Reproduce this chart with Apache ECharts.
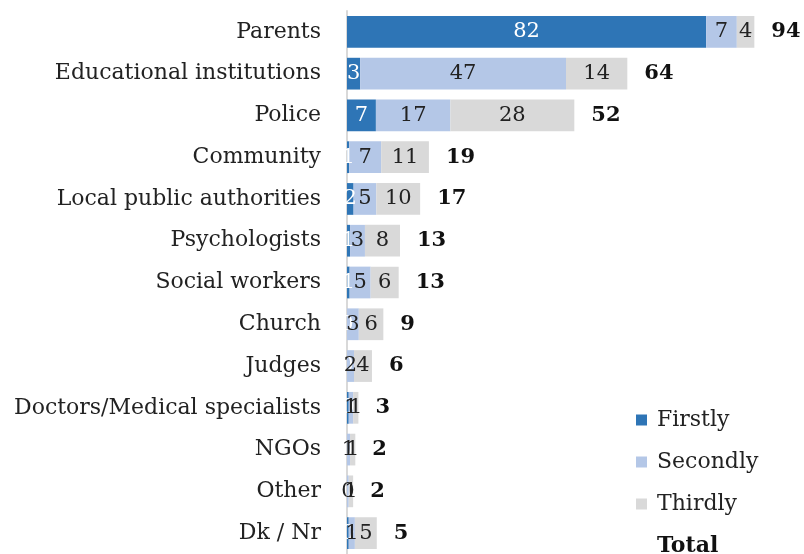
<!DOCTYPE html>
<html><head><meta charset="utf-8">
<script src="https://cdn.jsdelivr.net/npm/echarts@6/dist/echarts.min.js"></script>
<style>html,body{margin:0;padding:0;background:#fff}#c{width:804px;height:554px}</style>
</head><body><div id="c"></div>
<script>
const categories = ["Parents","Educational institutions","Police","Community","Local public authorities","Psychologists","Social workers","Church","Judges","Doctors/Medical specialists","NGOs","Other","Dk / Nr"];
const firstly  = [82, 3, 6.6, 0.5, 1.5, 0.7, 0.6, 0, 0, 0.4, 0, 0, 0.4];
const secondly = [7, 47, 17, 7.3, 5.2, 3.4, 4.8, 2.7, 1.6, 1, 0.7, 0.4, 1.4];
const thirdly  = [4, 14, 28.3, 10.9, 10, 8, 6.4, 5.6, 4.1, 1.2, 1.2, 1, 5];
const totals   = [94, 64, 52, 19, 17, 13, 13, 9, 6, 3, 2, 2, 5];

const FONT = "DejaVu Serif";
const chart = echarts.init(document.getElementById('c'));
const lbl = (color) => ({show:true, position:'inside', color:color, fontFamily:FONT, fontSize:21,
  formatter: p => String(Math.round(p.value))});
chart.setOption({
  animation:false,
  textStyle:{fontFamily:FONT},
  grid:{left:347, right:19, top:11, height:547},
  xAxis:{type:'value', min:0, max:100, show:false, splitLine:{show:false}},
  yAxis:{type:'category', data:categories, inverse:true,
    axisTick:{show:false},
    axisLine:{show:true, lineStyle:{color:'#d9d9d9', width:2}},
    axisLabel:{color:'#222', fontFamily:FONT, fontSize:22, margin:26}},
  legend:{orient:'vertical', left:636, top:409, height:200, itemWidth:11, itemHeight:11, itemGap:20,
    padding:0, icon:'rect',
    textStyle:{fontFamily:FONT, fontSize:22, color:'#222', padding:[0,0,0,5]},
    data:[{name:'Firstly'},{name:'Secondly'},{name:'Thirdly'},
      {name:'Total', textStyle:{fontWeight:'bold', color:'#111'}}]},
  series:[
    {name:'Firstly', type:'bar', stack:'s', data:firstly, barCategoryGap:'24%',
      itemStyle:{color:'#2e75b6'}, label:lbl('#fff')},
    {name:'Secondly', type:'bar', stack:'s', data:secondly,
      itemStyle:{color:'#b4c7e7'}, label:lbl('#222')},
    {name:'Thirdly', type:'bar', stack:'s', data:thirdly,
      itemStyle:{color:'#d9d9d9'}, label:lbl('#222')},
    {name:'Total', type:'bar', stack:'s', data:totals.map(()=>0),
      itemStyle:{color:'rgba(0,0,0,0)'},
      label:{show:true, position:'right', distance:17, color:'#111', fontFamily:FONT, fontSize:21, fontWeight:'bold',
        formatter: p => String(totals[p.dataIndex])}}
  ]
});
</script></body></html>
